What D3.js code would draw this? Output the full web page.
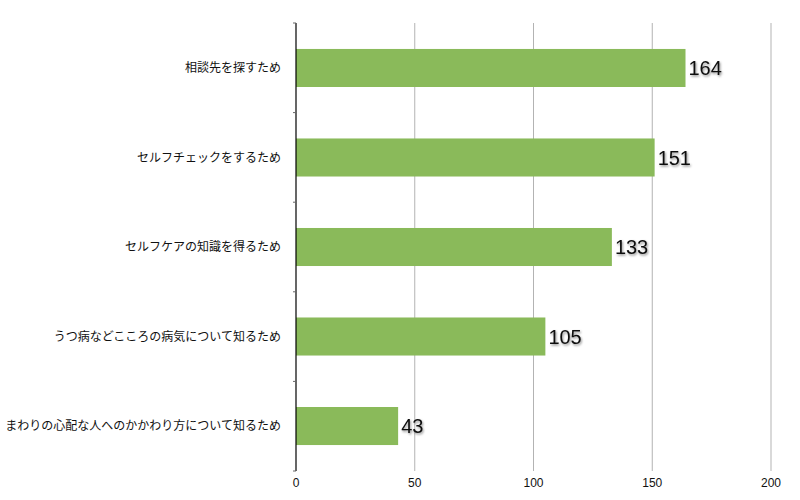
<!DOCTYPE html>
<html>
<head>
<meta charset="utf-8">
<script src="https://cdnjs.cloudflare.com/ajax/libs/d3/7.8.5/d3.min.js"></script>
<style>
  body { margin: 0; background: #fff; }
  text { font-family: "Noto Sans CJK JP", "Noto Sans", sans-serif; }
</style>
</head>
<body>
<div id="content"></div>
<script>
// survey answers, top to bottom
var categories = [
    "相談先を探すため",
    "セルフチェックをするため",
    "セルフケアの知識を得るため",
    "うつ病などこころの病気について知るため",
    "まわりの心配な人へのかかわり方について知るため"
];
var counts = [164, 151, 133, 105, 43];
var xTicks = [0, 50, 100, 150, 200];

var w = 800,
    h = 500,
    plotLeft = 296,
    plotRight = 771,
    plotTop = 23,
    plotBottom = 471;

var svg = d3.select("#content")
    .append("svg")
    .attr("width", w)
    .attr("height", h);

var defs = svg.append("defs");
var shadow = defs.append("filter")
    .attr("id", "shadow")
    .attr("x", "-20%").attr("y", "-20%")
    .attr("width", "150%").attr("height", "160%");
shadow.append("feDropShadow")
    .attr("dx", 1).attr("dy", 1.5)
    .attr("stdDeviation", 1.2)
    .attr("flood-color", "#000")
    .attr("flood-opacity", 0.45);

var x = d3.scaleLinear().domain([0, 200]).range([plotLeft, plotRight]);
var y = d3.scaleBand().domain(categories).range([plotTop, plotBottom]).paddingInner(0.575).paddingOuter(0.29);

// grid lines
svg.selectAll("line.grid")
    .data(xTicks.slice(1))
    .enter()
    .append("line")
    .attr("class", "grid")
    .attr("x1", function(d) { return x(d); })
    .attr("x2", function(d) { return x(d); })
    .attr("y1", plotTop)
    .attr("y2", plotBottom)
    .attr("stroke", "#b3b3b3")
    .attr("stroke-width", 1);

// bars
svg.selectAll("rect.bar")
    .data(counts)
    .enter()
    .append("rect")
    .attr("class", "bar")
    .attr("x", x(0))
    .attr("y", function(d, i) { return y(categories[i]); })
    .attr("width", function(d) { return x(d) - x(0); })
    .attr("height", y.bandwidth())
    .attr("fill", "#8aba5a");

// value labels
svg.selectAll("text.val")
    .data(counts)
    .enter()
    .append("text")
    .attr("class", "val")
    .attr("x", function(d) { return x(d) + 3; })
    .attr("y", function(d, i) { return y(categories[i]) + y.bandwidth() / 2; })
    .attr("dy", "0.36em")
    .attr("font-size", 20)
    .style("font-family", "'Liberation Sans', Arial, sans-serif")
    .attr("fill", "#111")
    .attr("filter", "url(#shadow)")
    .text(function(d) { return d; });

// y axis: line + ticks at band edges
var step = (plotBottom - plotTop) / categories.length;
svg.append("line")
    .attr("x1", plotLeft).attr("x2", plotLeft)
    .attr("y1", plotTop).attr("y2", plotBottom)
    .attr("stroke", "#000").attr("stroke-width", 1.2);
svg.selectAll("line.ytick")
    .data(d3.range(categories.length + 1))
    .enter()
    .append("line")
    .attr("class", "ytick")
    .attr("x1", plotLeft - 3).attr("x2", plotLeft)
    .attr("y1", function(i) { return plotTop + i * step; })
    .attr("y2", function(i) { return plotTop + i * step; })
    .attr("stroke", "#666");

svg.selectAll("text.cat")
    .data(categories)
    .enter()
    .append("text")
    .attr("class", "cat")
    .attr("x", plotLeft - 15)
    .attr("y", function(d, i) { return plotTop + (i + 0.5) * step; })
    .attr("dy", "0.35em")
    .attr("text-anchor", "end")
    .attr("font-size", 12)
    .attr("fill", "#111")
    .text(function(d) { return d; });

// x tick labels
svg.selectAll("text.xt")
    .data(xTicks)
    .enter()
    .append("text")
    .attr("class", "xt")
    .attr("x", function(d) { return x(d); })
    .attr("y", 487)
    .attr("text-anchor", "middle")
    .attr("font-size", 12)
    .style("font-family", "'Liberation Sans', Arial, sans-serif")
    .attr("fill", "#111")
    .text(function(d) { return d; });
</script>
</body>
</html>
